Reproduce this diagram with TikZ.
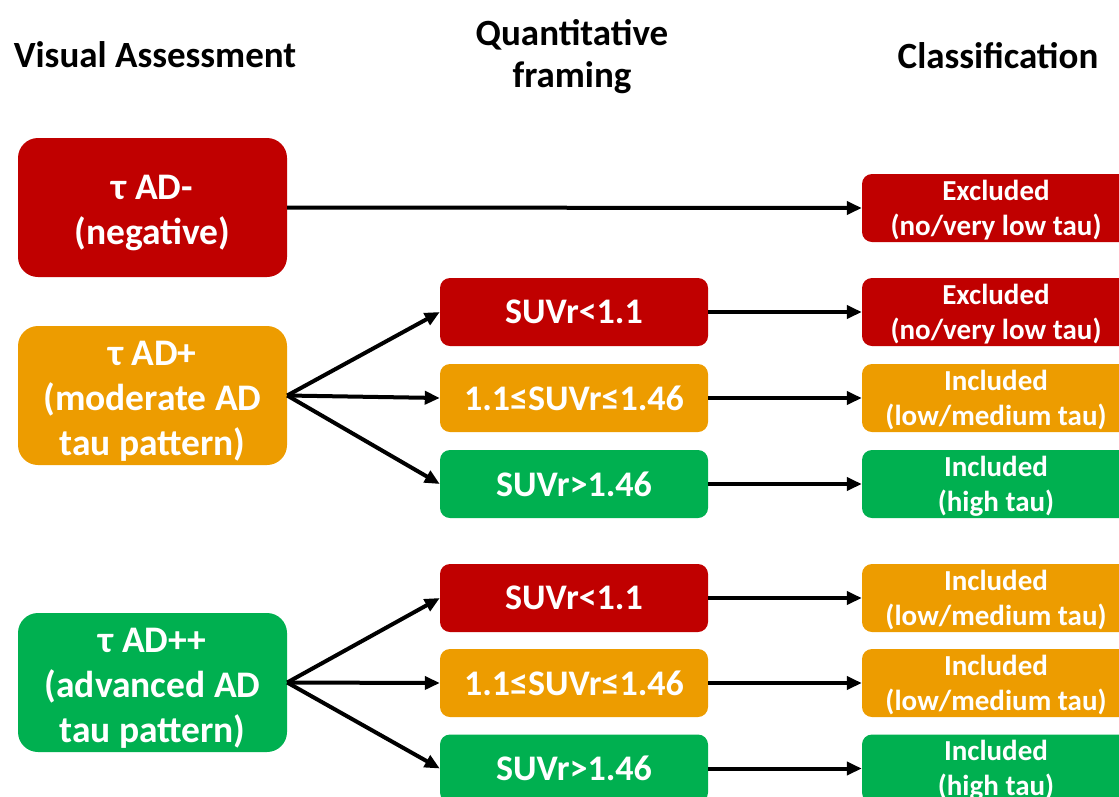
\documentclass[tikz,border=0pt]{standalone}
\usepackage{fontspec}
\setmainfont{Carlito}
\usetikzlibrary{arrows.meta}
\definecolor{cred}{RGB}{192,0,0}
\definecolor{corange}{RGB}{237,156,0}
\definecolor{cgreen}{RGB}{0,176,80}
\newcommand{\lstrut}{\rule{0pt}{36pt}}
\newcommand{\rstrut}{\rule{0pt}{24pt}}
\tikzset{
  box/.style={rectangle, text=white, align=center, inner sep=0pt, font=\bfseries},
  leftbox/.style={box, rounded corners=20pt, minimum width=269pt, minimum height=139pt, font=\fontsize{37.5}{45}\selectfont\bfseries},
  midbox/.style={box, rounded corners=10pt, minimum width=268pt, minimum height=68pt, font=\fontsize{36}{40}\selectfont\bfseries},
  rightbox/.style={box, rounded corners=10pt, minimum width=268pt, minimum height=68pt, font=\fontsize{29}{35}\selectfont\bfseries},
  head/.style={align=center, font=\fontsize{37}{42}\selectfont\bfseries},
  arr/.style={line width=4pt, -{Triangle[length=15pt,width=13pt]}}
}
\begin{document}
\begin{tikzpicture}[x=1pt,y=-1pt]
\useasboundingbox (0,0) rectangle (1119,796);
\clip (0,0) rectangle (1119,796);
% headers
\node[head] (h1) at (155,55) {Visual Assessment};
\node[head] (h2) at (572,57) {Quantitative\\framing};
\node[head] (h3) at (998,56) {Classification};
% left boxes
\node[leftbox, fill=cred] (a1) at (152.5,207.5) {\lstrut τ AD-\\(negative)};
\node[leftbox, fill=corange] (a2) at (152.5,395.5) {\lstrut τ AD+\\(moderate AD\\tau pattern)};
\node[leftbox, fill=cgreen] (a3) at (152.5,682.5) {\lstrut τ AD++\\(advanced AD\\tau pattern)};
% middle boxes
\node[midbox, fill=cred] (b1) at (574,312) {SUVr<1.1};
\node[midbox, fill=corange] (b2) at (574,398) {1.1≤SUVr≤1.46};
\node[midbox, fill=cgreen] (b3) at (574,484) {SUVr>1.46};
\node[midbox, fill=cred] (b4) at (574,598) {SUVr<1.1};
\node[midbox, fill=corange] (b5) at (574,683) {1.1≤SUVr≤1.46};
\node[midbox, fill=cgreen] (b6) at (574,768.5) {SUVr>1.46};
% right boxes
\node[rightbox, fill=cred] (c1) at (996,208) {\rstrut Excluded\\(no/very low tau)};
\node[rightbox, fill=cred] (c2) at (996,312) {\rstrut Excluded\\(no/very low tau)};
\node[rightbox, fill=corange] (c3) at (996,398) {\rstrut Included\\(low/medium tau)};
\node[rightbox, fill=cgreen] (c4) at (996,484) {\rstrut Included\\(high tau)};
\node[rightbox, fill=corange] (c5) at (996,598) {\rstrut Included\\(low/medium tau)};
\node[rightbox, fill=corange] (c6) at (996,683) {\rstrut Included\\(low/medium tau)};
\node[rightbox, fill=cgreen] (c7) at (996,768.5) {\rstrut Included\\(high tau)};
% arrows
\draw[arr] (a1.east) -- (c1.west);
\draw[arr] (a2.east) -- (b1.west);
\draw[arr] (a2.east) -- (b2.west);
\draw[arr] (a2.east) -- (b3.west);
\draw[arr] (a3.east) -- (b4.west);
\draw[arr] (a3.east) -- (b5.west);
\draw[arr] (a3.east) -- (b6.west);
\draw[arr] (b1.east) -- (c2.west);
\draw[arr] (b2.east) -- (c3.west);
\draw[arr] (b3.east) -- (c4.west);
\draw[arr] (b4.east) -- (c5.west);
\draw[arr] (b5.east) -- (c6.west);
\draw[arr] (b6.east) -- (c7.west);
\end{tikzpicture}
\end{document}
